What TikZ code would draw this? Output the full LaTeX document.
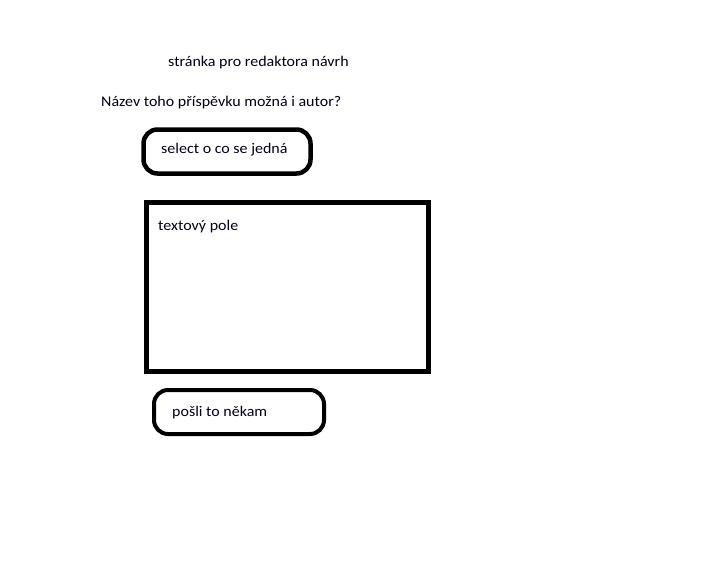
\documentclass[tikz,border=0pt]{standalone}
\usepackage{fontspec}
\setmainfont{Carlito}[FakeStretch=1.08]
\begin{document}
\begin{tikzpicture}[x=1pt,y=-1pt,
  lbl/.style={inner sep=0pt,anchor=base west,font=\fontsize{14.8}{17}\selectfont,text=black!90!blue},
  pill/.style={draw=black,line width=4.5pt,rounded corners=14pt},
  field/.style={draw=black,line width=5pt}]
\useasboundingbox[fill=white] (0,0) rectangle (704,566);
\node[lbl] (title) at (168,66) {stránka pro redaktora návrh};
\node[lbl] (name) at (101,106.5) {Název toho příspěvku možná i autor?};
\draw[pill] (143.5,129.5) rectangle (310.5,173.5);
\node[lbl] (sel) at (161,153.5) {select o co se jedná};
\draw[field] (146.5,202.5) rectangle (428.5,371.5);
\node[lbl] (txt) at (158,230) {textový pole};
\draw[pill,line width=4pt] (154,390) rectangle (324,434);
\node[lbl] (send) at (172,416.5) {pošli to někam};
\end{tikzpicture}
\end{document}
